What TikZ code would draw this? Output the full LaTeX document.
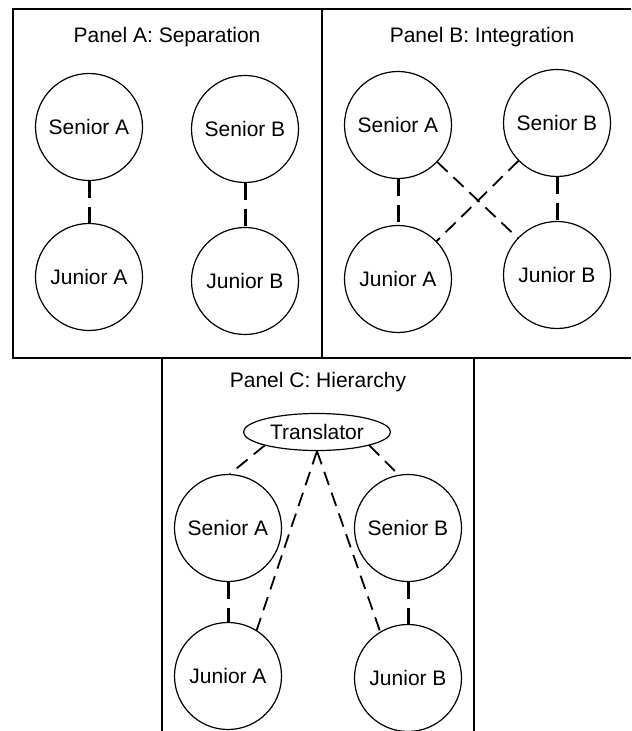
\documentclass[tikz,border=0pt]{standalone}
\usepackage{fontspec}
\setmainfont{Liberation Sans}
\usepackage{tikz}
\usetikzlibrary{shapes.geometric}
\tikzset{
  person/.style={circle,draw=black,line width=0.6pt,minimum size=53.5pt,inner sep=0pt,
    font=\fontsize{10.5}{12.6}\selectfont,fill=white},
  middleman/.style={ellipse,draw=black,line width=0.6pt,minimum width=73.5pt,
    minimum height=18.5pt,inner sep=0pt,font=\fontsize{10.5}{12.6}\selectfont,fill=white},
  paneltitle/.style={font=\fontsize{10.5}{12.6}\selectfont},
  panelline/.style={line width=0.75pt,black},
  tie/.style={line width=1.5pt,dash pattern=on 8.5pt off 4.5pt,dash phase=0pt},
  link/.style={line width=0.9pt,dash pattern=on 7pt off 4pt}
}
\begin{document}
\begin{tikzpicture}[x=0.5pt,y=-0.5pt]
  \clip (0,0) rectangle (631,731);
  \fill[white] (0,0) rectangle (631,731);

  \draw[panelline] (631,9) -- (13,9) -- (13,358) -- (631,358);
  \draw[panelline] (322,9) -- (322,358);
  \draw[panelline] (162,358) -- (162,740);
  \draw[panelline] (474,358) -- (474,740);

  \node[paneltitle] (tA) at (167,37) {Panel A: Separation};
  \node[paneltitle] (tB) at (482,37) {Panel B: Integration};
  \node[paneltitle] (tC) at (318,382) {Panel C: Hierarchy};

  \node[person] (sa1) at (89,127)  {Senior A};
  \node[person] (ja1) at (89,277)  {Junior A};
  \node[person] (sb1) at (245,129) {Senior B};
  \node[person] (jb1) at (245,281) {Junior B};

  \node[person] (sa2) at (398,125) {Senior A};
  \node[person] (ja2) at (398,279) {Junior A};
  \node[person] (sb2) at (557,123) {Senior B};
  \node[person] (jb2) at (557,275) {Junior B};

  \node[middleman] (tr) at (317,432) {Translator};
  \node[person] (sa3) at (228,528) {Senior A};
  \node[person] (sb3) at (408,528) {Senior B};
  \node[person] (ja3) at (228,676) {Junior A};
  \node[person] (jb3) at (408,678) {Junior B};

  \draw[tie] (sa1) -- (ja1);
  \draw[tie] (sb1) -- (jb1);

  \draw[tie] (sa2) -- (ja2);
  \draw[tie] (sb2) -- (jb2);
  \draw[link] (sa2) -- (jb2);
  \draw[link] (sb2) -- (ja2);

  \draw[tie] (sa3) -- (ja3);
  \draw[tie] (sb3) -- (jb3);
  \draw[link] (tr.south west) -- (sa3.88);
  \draw[link] (tr.south east) -- (sb3.100);
  \draw[link] (tr.south) -- (ja3.58);
  \draw[link] (tr.south) -- (jb3.121);
\end{tikzpicture}
\end{document}
